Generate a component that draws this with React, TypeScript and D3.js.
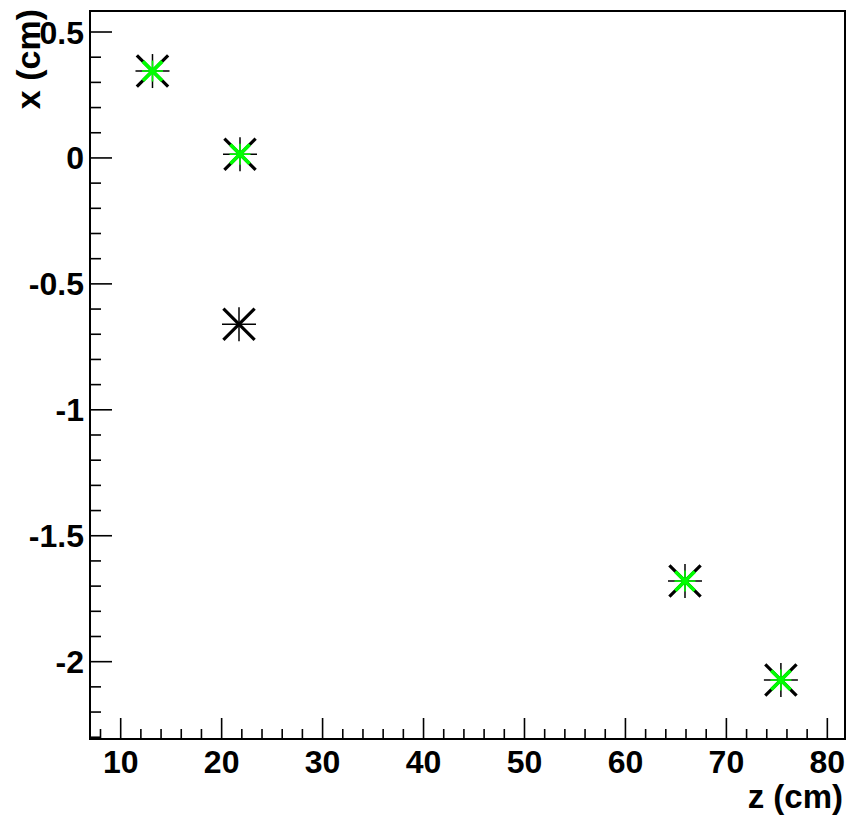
import React from "react";
import * as d3 from "d3";

const blackZ = [13.15, 21.82, 21.72, 65.9, 75.4];
const blackX = [0.345, 0.015, -0.66, -1.68, -2.073];
const greenZ = [13.15, 21.82, 65.9, 75.4];
const greenX = [0.345, 0.015, -1.68, -2.073];
const xTickLabels = [10, 20, 30, 40, 50, 60, 70, 80];
const yTickLabels = [0.5, 0, -0.5, -1, -1.5, -2];

const W = 849, H = 817;
const L = 90, T = 11, R = 845, B = 739;

function Star({ cx, cy, size, color, thick, thin }: { cx: number; cy: number; size: number; color: string; thick: number; thin: number }) {
  const h = size / 2;
  const d = h * 0.92;
  return (
    <g stroke={color} strokeLinecap="butt">
      <line x1={cx - h} y1={cy} x2={cx + h} y2={cy} strokeWidth={thin} />
      <line x1={cx} y1={cy - h} x2={cx} y2={cy + h} strokeWidth={thin} />
      <line x1={cx - d} y1={cy - d} x2={cx + d} y2={cy + d} strokeWidth={thick} />
      <line x1={cx - d} y1={cy + d} x2={cx + d} y2={cy - d} strokeWidth={thick} />
    </g>
  );
}

export default function App() {
  const x = d3.scaleLinear().domain([6.96, 81.75]).range([L, R]);
  const y = d3.scaleLinear().domain([-2.307, 0.5834]).range([B, T]);
  const xMinor = d3.range(8, 82, 2);
  const yMinor = d3.range(-23, 6, 1).map((v) => v / 10);
  const font = "'Liberation Sans', Arial, sans-serif";
  return (
    <svg width={W} height={H} style={{ position: "absolute", left: 0, top: 0, background: "#fff" }}>
      <rect x={0} y={0} width={W} height={H} fill="#fff" />
      {xMinor.map((v) => {
        const major = v % 10 === 0;
        return <line key={"xm" + v} x1={x(v)} x2={x(v)} y1={B} y2={B - (major ? 21 : 10)} stroke="#000" strokeWidth={1.6} />;
      })}
      {yMinor.map((v) => {
        const major = Math.abs(Math.round(v * 10)) % 5 === 0;
        return <line key={"ym" + v} x1={L} x2={L + (major ? 22 : 11)} y1={y(v)} y2={y(v)} stroke="#000" strokeWidth={1.6} />;
      })}
      <rect x={L} y={T} width={R - L} height={B - T} fill="none" stroke="#000" strokeWidth={2} />
      {xTickLabels.map((v) => (
        <text key={"xl" + v} x={x(v)} y={773} textAnchor="middle" fontFamily={font} fontWeight="bold" fontSize={32} fill="#000">{v}</text>
      ))}
      {yTickLabels.map((v) => (
        <text key={"yl" + v} x={84} y={y(v) + 11.5} textAnchor="end" fontFamily={font} fontWeight="bold" fontSize={32} fill="#000">{v}</text>
      ))}
      <text x={843} y={808} textAnchor="end" fontFamily={font} fontWeight="bold" fontSize={33} fill="#000">z (cm)</text>
      <text transform="translate(40,9) rotate(-90)" textAnchor="end" fontFamily={font} fontWeight="bold" fontSize={34} fill="#000">x (cm)</text>
      {blackZ.map((v, i) => (
        <Star key={"b" + i} cx={x(v)} cy={y(blackX[i])} size={34} color="#000" thick={3.2} thin={1.5} />
      ))}
      {greenZ.map((v, i) => (
        <Star key={"g" + i} cx={x(v)} cy={y(greenX[i])} size={21} color="#00ff00" thick={3.6} thin={1.6} />
      ))}
    </svg>
  );
}
